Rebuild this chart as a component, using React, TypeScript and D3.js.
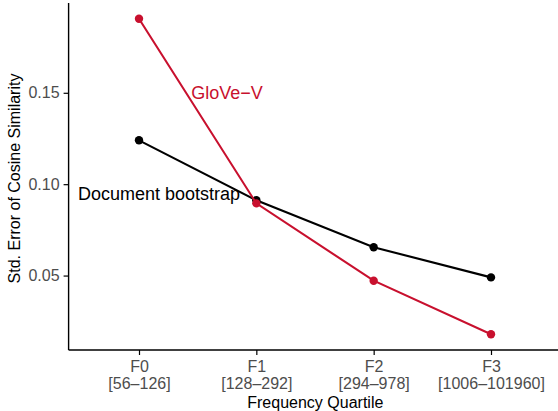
import * as d3 from 'd3';
import { useRef, useEffect } from 'react';

// quartile categories and their frequency ranges
const quartiles = ['F0', 'F1', 'F2', 'F3'];
const ranges = ['[56\u2013126]', '[128\u2013292]', '[294\u2013978]', '[1006\u2013101960]'];

// std. error of cosine similarity
const bootstrapValues = [0.124, 0.0912, 0.0655, 0.049];
const gloveValues = [0.1905, 0.0895, 0.0472, 0.0179];

const yTicks = [0.05, 0.1, 0.15];

const seriesNames = ['Document bootstrap', 'GloVe\u2212V'];
const seriesColors = ['#000000', '#C8102E'];
// label positions in data units (category index, value)
const labelX = [0.17, 0.75];
const labelY = [0.095, 0.15];

const width = 558;
const height = 411;
const font = '"Liberation Sans", Arial, Helvetica, sans-serif';

const App: React.FC = () => {
  const ref = useRef<SVGSVGElement>(null);

  useEffect(() => {
    if (!ref.current) return;
    const svg = d3.select(ref.current);
    svg.selectAll('*').remove();

    const margin = { top: 3, right: -3.4, bottom: 61, left: 68.6 };

    const x = d3.scalePoint<string>()
      .domain(quartiles)
      .range([margin.left, width - margin.right])
      .padding(0.6);
    const xi = d3.scaleLinear()
      .domain([0, quartiles.length - 1])
      .range([x(quartiles[0])!, x(quartiles[quartiles.length - 1])!]);

    const all = [...bootstrapValues, ...gloveValues];
    const lo = d3.min(all)!;
    const hi = d3.max(all)!;
    const pad = (hi - lo) * 0.05;
    const y = d3.scaleLinear()
      .domain([lo - pad, hi + pad])
      .range([height - margin.bottom, margin.top]);

    const line = d3.line<number>()
      .x((_, i) => x(quartiles[i])!)
      .y(d => y(d));

    const series = [bootstrapValues, gloveValues];

    // series lines and points (glove drawn on top)
    series.forEach((vals, s) => {
      const g = svg.append('g');
      g.append('path')
        .datum(vals)
        .attr('d', line)
        .attr('fill', 'none')
        .attr('stroke', seriesColors[s])
        .attr('stroke-width', 2.1);
      g.selectAll('circle')
        .data(vals)
        .enter().append('circle')
        .attr('cx', (_, i) => x(quartiles[i])!)
        .attr('cy', d => y(d))
        .attr('r', 4.2)
        .attr('fill', seriesColors[s]);
    });

    // direct labels
    series.forEach((_, s) => {
      svg.append('text')
        .attr('x', xi(labelX[s]))
        .attr('y', y(labelY[s]))
        .attr('dy', '0.36em')
        .attr('text-anchor', 'middle')
        .attr('font-family', font)
        .attr('font-size', 18)
        .attr('fill', seriesColors[s])
        .text(seriesNames[s]);
    });

    // y axis
    const yAxis = svg.append('g')
      .attr('transform', `translate(${margin.left},0)`)
      .call(d3.axisLeft(y).tickValues(yTicks).tickFormat(d3.format('.2f')).tickSize(5).tickPadding(4));
    yAxis.select('.domain')
      .attr('d', `M0,${margin.top}V${height - margin.bottom}`)
      .attr('stroke-width', 1.4);
    yAxis.selectAll('.tick line').attr('stroke-width', 1.2);
    yAxis.selectAll('.tick text')
      .attr('font-family', font)
      .attr('font-size', 16)
      .attr('fill', '#4D4D4D');

    // x axis
    const xAxis = svg.append('g')
      .attr('transform', `translate(0,${height - margin.bottom})`)
      .call(d3.axisBottom(x).tickSize(5).tickPadding(4));
    xAxis.select('.domain')
      .attr('d', `M${margin.left},0H${width}`)
      .attr('stroke-width', 1.4);
    xAxis.selectAll('.tick line').attr('stroke-width', 1.2);
    xAxis.selectAll<SVGTextElement, string>('.tick text')
      .attr('font-family', font)
      .attr('font-size', 16)
      .attr('fill', '#4D4D4D')
      .attr('dy', null)
      .attr('y', 0)
      .text(null)
      .each(function (d, i) {
        const t = d3.select(this);
        t.append('tspan').attr('x', 0).attr('y', 22).text(d);
        t.append('tspan').attr('x', 0).attr('y', 39).text(ranges[i]);
      });

    // axis titles
    svg.append('text')
      .attr('x', (margin.left + width) / 2 + 2)
      .attr('y', 408)
      .attr('text-anchor', 'middle')
      .attr('font-family', font)
      .attr('font-size', 16)
      .attr('fill', '#000')
      .text('Frequency Quartile');

    svg.append('text')
      .attr('transform', `translate(20,${(margin.top + height - margin.bottom) / 2 + 2}) rotate(-90)`)
      .attr('text-anchor', 'middle')
      .attr('font-family', font)
      .attr('font-size', 16)
      .attr('fill', '#000')
      .text('Std. Error of Cosine Similarity');
  }, []);

  return (
    <svg
      ref={ref}
      width={width}
      height={height}
      style={{ position: 'absolute', left: 0, top: 0, background: '#fff' }}
    />
  );
};

export default App;
